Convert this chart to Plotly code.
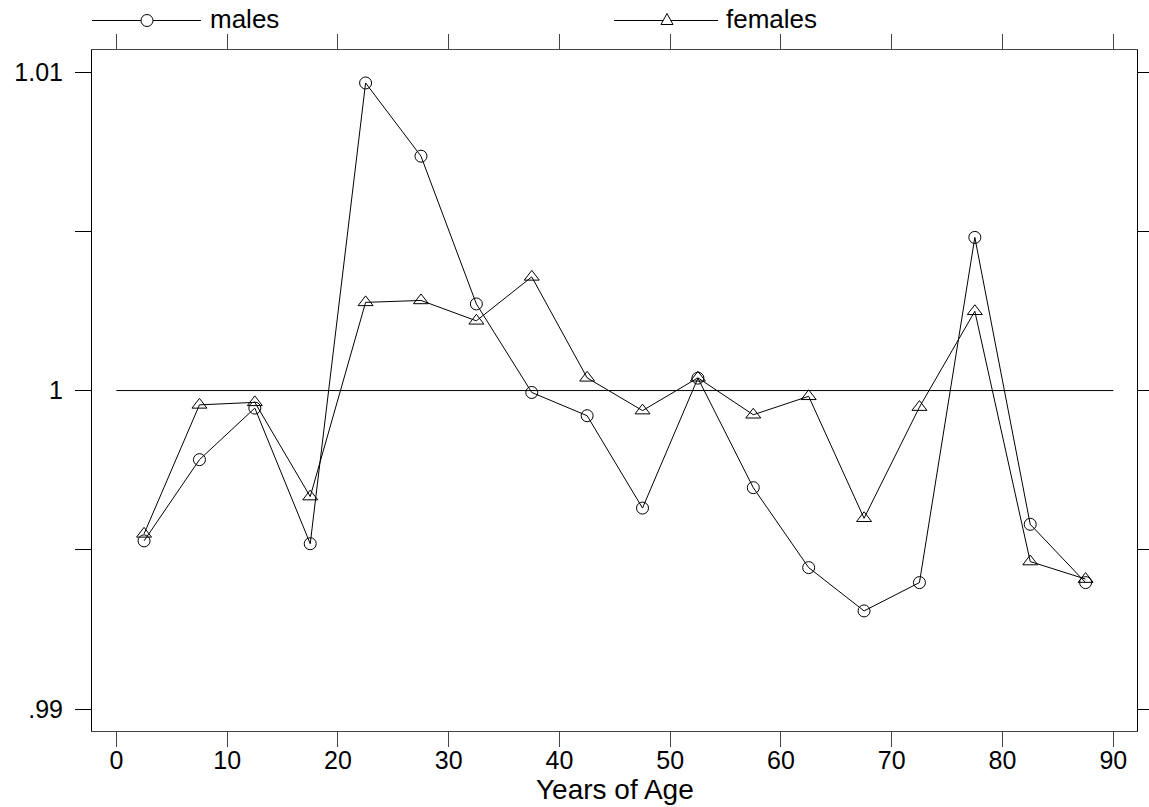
import plotly.graph_objects as go

# ---- data ----
age = [2.5, 7.5, 12.5, 17.5, 22.5, 27.5, 32.5, 37.5, 42.5,
       47.5, 52.5, 57.5, 62.5, 67.5, 72.5, 77.5, 82.5, 87.5]
males = [0.99528, 0.99783, 0.99945, 0.99519, 1.00966, 1.00736, 1.00272, 0.99994, 0.99921,
         0.99631, 1.00039, 0.99695, 0.99444, 0.99308, 0.99397, 1.00481, 0.99580, 0.99397]
females = [0.99550, 0.99955, 0.99963, 0.99667, 1.00277, 1.00283, 1.00219, 1.00357, 1.00040,
           0.99937, 1.00040, 0.99924, 0.99982, 0.99599, 0.99948, 1.00249, 0.99463, 0.99408]
ref_y = 1.0
ref_x = [0, 90]
x_ticks = [0, 10, 20, 30, 40, 50, 60, 70, 80, 90]
y_ticks = [0.99, 0.995, 1.0, 1.005, 1.01]
y_ticktext = [".99", "", "1", "", "1.01"]
series_names = ["males", "females"]
x_title = "Years of Age"

# ---- layout geometry (pixels) ----
W, H = 1149, 807
ML, MR, MT, MB = 92, 12, 50, 76
PW, PH = W - ML - MR, H - MT - MB


def fx(px):
    return (px - ML) / PW


def fy(py):
    return (H - MB - py) / PH


FONT = "Liberation Sans, Arial, sans-serif"

fig = go.Figure()

fig.add_trace(go.Scatter(
    x=ref_x, y=[ref_y] * len(ref_x), mode="lines",
    line=dict(color="black", width=1), showlegend=False, hoverinfo="skip"))

fig.add_trace(go.Scatter(
    x=age, y=males, mode="lines+markers", name=series_names[0],
    line=dict(color="black", width=1),
    marker=dict(symbol="circle-open", size=12, color="black", line=dict(width=1)),
    showlegend=False))

fig.add_trace(go.Scatter(
    x=age, y=females, mode="lines+markers", name=series_names[1],
    line=dict(color="black", width=1),
    marker=dict(symbol="triangle-up-open", size=13, color="black", line=dict(width=1)),
    showlegend=False))

# ---- custom legend (top strip) ----
shapes = []
ann = []
leg_y = 20.5
# males
shapes.append(dict(type="line", xref="paper", yref="paper",
                   x0=fx(92), x1=fx(201), y0=fy(leg_y), y1=fy(leg_y),
                   line=dict(color="black", width=1)))
shapes.append(dict(type="circle", xref="paper", yref="paper",
                   x0=fx(141), x1=fx(153), y0=fy(leg_y + 6), y1=fy(leg_y - 6),
                   line=dict(color="black", width=1), fillcolor="white"))
ann.append(dict(text=series_names[0], xref="paper", yref="paper",
                x=fx(208), y=fy(19), xanchor="left", yanchor="middle",
                showarrow=False, font=dict(family=FONT, size=26, color="black")))
# females
shapes.append(dict(type="line", xref="paper", yref="paper",
                   x0=fx(614), x1=fx(718), y0=fy(leg_y), y1=fy(leg_y),
                   line=dict(color="black", width=1)))
tx, ty = 667, leg_y
tri = "M {:.5f},{:.5f} L {:.5f},{:.5f} L {:.5f},{:.5f} Z".format(
    fx(tx - 6), fy(ty + 4), fx(tx + 6), fy(ty + 4), fx(tx), fy(ty - 7))
shapes.append(dict(type="path", xref="paper", yref="paper", path=tri,
                   line=dict(color="black", width=1), fillcolor="white"))
ann.append(dict(text=series_names[1], xref="paper", yref="paper",
                x=fx(724), y=fy(19), xanchor="left", yanchor="middle",
                showarrow=False, font=dict(family=FONT, size=26, color="black")))
# x-axis title
ann.append(dict(text=x_title, xref="paper", yref="paper",
                x=fx(615), y=fy(789), xanchor="center", yanchor="middle",
                showarrow=False, font=dict(family=FONT, size=28, color="black")))

fig.update_layout(
    template="none",
    width=W, height=H,
    margin=dict(l=ML, r=MR, t=MT, b=MB, pad=0),
    paper_bgcolor="white", plot_bgcolor="white",
    font=dict(family=FONT, size=25, color="black"),
    shapes=shapes, annotations=ann,
    showlegend=False,
    hovermode=False,
    xaxis=dict(
        automargin=False,
        range=[-2.2, 92.14], tickvals=x_ticks, ticktext=[str(v) for v in x_ticks],
        ticks="outside", ticklen=15, tickwidth=1, tickcolor="#444",
        showline=True, linecolor="#444", linewidth=1.3, mirror="ticks",
        showgrid=False, zeroline=False, ticklabelstandoff=-8,
        tickfont=dict(family=FONT, size=25, color="black"),
    ),
    yaxis=dict(
        automargin=False,
        range=[0.989309, 1.010695], tickvals=y_ticks, ticktext=y_ticktext,
        ticks="outside", ticklen=16, tickwidth=1, tickcolor="black",
        showline=True, linecolor="black", linewidth=1, mirror="ticks",
        showgrid=False, zeroline=False, ticklabelstandoff=7,
        tickfont=dict(family=FONT, size=25, color="black"),
    ),
)

fig.write_html("out.html", config={"displayModeBar": False},
               post_script="document.body.style.margin='0';document.body.style.overflow='hidden';")
